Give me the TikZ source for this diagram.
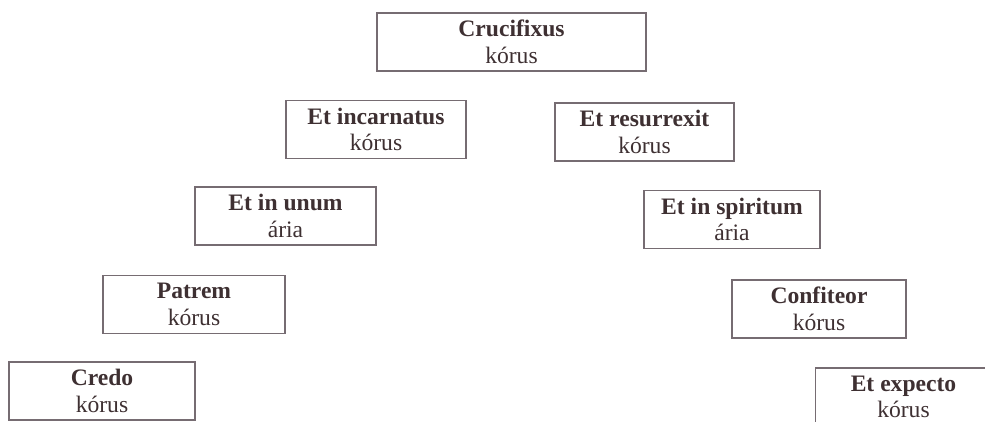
\documentclass[tikz,border=0pt]{standalone}
\usepackage{fontspec}
\setmainfont{Liberation Serif}
\usepackage{tikz}
\definecolor{ink}{RGB}{62,48,50}
\definecolor{frame}{RGB}{118,108,114}

\begin{document}
\begin{tikzpicture}[x=0.5pt, y=-0.5pt,
    part/.style={rectangle, draw=frame, line width=0.6pt, text=ink, align=center,
      minimum width=90pt, minimum height=29pt, inner sep=0pt,
      font=\fontsize{11.8}{13.2}\selectfont}]
  \useasboundingbox (0,0) rectangle (985,422);
  \clip (0,0) rectangle (985,422);
  % Place nodes
  \node [part, minimum width=134.5pt] (cru) at (511.5,42) {\textbf{Crucifixus}\\kórus};
  \node [part] (inc) at (376,129.5) {\textbf{Et incarnatus}\\kórus};
  \node [part, minimum width=89.5pt] (res) at (644.5,132) {\textbf{Et resurrexit}\\kórus};
  \node [part, minimum width=90.5pt] (unum) at (285.5,216) {\textbf{Et in unum}\\ária};
  \node [part, minimum width=88pt] (spir) at (732,219.5) {\textbf{Et in spiritum}\\ária};
  \node [part, minimum width=91pt] (pat) at (194,304.5) {\textbf{Patrem}\\kórus};
  \node [part, minimum width=87pt] (conf) at (819,309) {\textbf{Confiteor}\\kórus};
  \node [part, minimum width=93pt] (credo) at (102,391) {\textbf{Credo}\\kórus};
  \node [part, minimum width=88pt] (exp) at (903.5,397) {\textbf{Et expecto}\\kórus};
\end{tikzpicture}
\end{document}
